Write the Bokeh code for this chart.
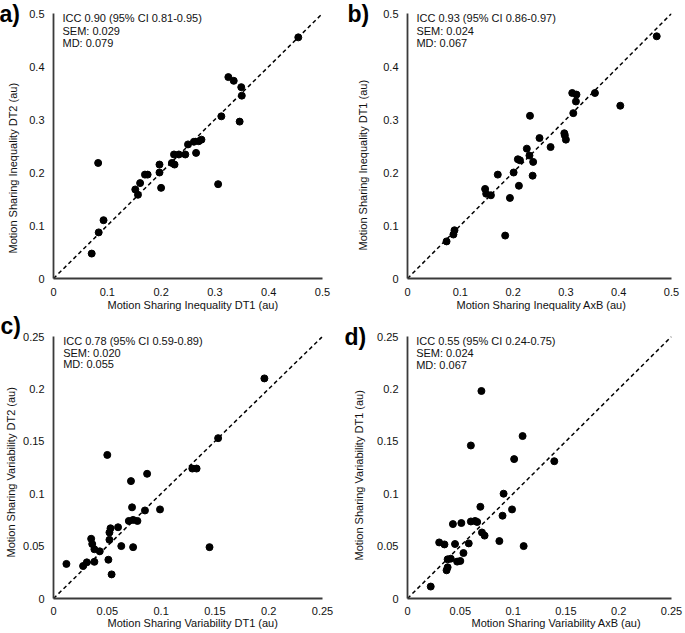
from bokeh.plotting import figure
from bokeh.layouts import gridplot
from bokeh.models import Range1d, FixedTicker, Label, Title
from bokeh.embed import file_html
from bokeh.resources import INLINE

FONT = "Liberation Sans"

# ---------------- data ----------------
# a) Motion Sharing Inequality: DT1 (x) vs DT2 (y)
a_x = [0.455, 0.325, 0.335, 0.349, 0.350, 0.346, 0.312, 0.306, 0.275, 0.270,
       0.261, 0.250, 0.265, 0.245, 0.233, 0.224, 0.220, 0.225, 0.197, 0.197,
       0.200, 0.175, 0.170, 0.161, 0.152, 0.157, 0.083, 0.093, 0.084, 0.071]
a_y = [0.455, 0.380, 0.373, 0.361, 0.345, 0.296, 0.306, 0.178, 0.262, 0.259,
       0.258, 0.253, 0.237, 0.234, 0.234, 0.234, 0.218, 0.215, 0.215, 0.200,
       0.171, 0.196, 0.196, 0.180, 0.168, 0.158, 0.218, 0.110, 0.087, 0.047]

# b) Motion Sharing Inequality: AxB (x) vs DT1 (y)
b_x = [0.472, 0.312, 0.320, 0.355, 0.319, 0.314, 0.403, 0.232, 0.250, 0.297,
       0.298, 0.300, 0.271, 0.226, 0.231, 0.209, 0.213, 0.238, 0.201, 0.171,
       0.237, 0.211, 0.194, 0.147, 0.149, 0.158, 0.185, 0.089, 0.087, 0.074]
b_y = [0.457, 0.350, 0.347, 0.350, 0.334, 0.312, 0.326, 0.307, 0.265, 0.274,
       0.270, 0.262, 0.248, 0.245, 0.232, 0.225, 0.223, 0.220, 0.200, 0.196,
       0.194, 0.175, 0.152, 0.169, 0.160, 0.157, 0.081, 0.091, 0.083, 0.070]

# c) Motion Sharing Variability: DT1 (x) vs DT2 (y)
c_x = [0.050, 0.087, 0.072, 0.073, 0.085, 0.099, 0.070, 0.074, 0.078, 0.060,
       0.053, 0.052, 0.052, 0.035, 0.036, 0.038, 0.043, 0.063, 0.074, 0.051,
       0.038, 0.031, 0.0275, 0.012, 0.054, 0.145, 0.196, 0.153, 0.129, 0.133]
c_y = [0.137, 0.119, 0.112, 0.087, 0.084, 0.085, 0.074, 0.075, 0.074, 0.068,
       0.067, 0.063, 0.056, 0.057, 0.052, 0.047, 0.045, 0.050, 0.049, 0.037,
       0.035, 0.0345, 0.031, 0.033, 0.023, 0.049, 0.210, 0.153, 0.124, 0.124]

# d) Motion Sharing Variability: AxB (x) vs DT1 (y)
d_x = [0.070, 0.060, 0.109, 0.101, 0.139, 0.091, 0.069, 0.099, 0.090, 0.043,
       0.051, 0.060, 0.064, 0.066, 0.0705, 0.073, 0.030, 0.035, 0.045, 0.058,
       0.087, 0.110, 0.053, 0.038, 0.041, 0.047, 0.050, 0.038, 0.037, 0.022]
d_y = [0.198, 0.146, 0.155, 0.133, 0.131, 0.100, 0.0875, 0.085, 0.079, 0.071,
       0.072, 0.0735, 0.074, 0.073, 0.063, 0.060, 0.0535, 0.0516, 0.052, 0.0526,
       0.0548, 0.050, 0.0434, 0.0374, 0.038, 0.0352, 0.0358, 0.0298, 0.0269, 0.0114]

ineq_ticks = [0, 0.1, 0.2, 0.3, 0.4, 0.5]
ineq_tick_labels = ["0", "0.1", "0.2", "0.3", "0.4", "0.5"]
var_ticks = [0, 0.05, 0.1, 0.15, 0.2, 0.25]
var_tick_labels = ["0", "0.05", "0.1", "0.15", "0.2", "0.25"]

stats_a = ["ICC 0.90 (95% CI 0.81-0.95)", "SEM: 0.029", "MD: 0.079"]
stats_b = ["ICC 0.93 (95% CI 0.86-0.97)", "SEM: 0.024", "MD: 0.067"]
stats_c = ["ICC 0.78 (95% CI 0.59-0.89)", "SEM: 0.020", "MD: 0.055"]
stats_d = ["ICC 0.55 (95% CI 0.24-0.75)", "SEM: 0.024", "MD: 0.067"]

TEXT_COLOR = "#111111"


def make_panel(xs, ys, ticks, tick_labels, xlabel, ylabel, stats, tag,
               W, H, bl, br, bt, bb, x_std, ytitle_off, ytitle_std,
               xtitle_off, xtitle_std, stat_x, stat_gap, tag_off, tag_std):
    vmax = ticks[-1]
    p = figure(width=W, height=H, x_range=Range1d(0, vmax), y_range=Range1d(0, vmax),
               output_backend="svg", toolbar_location=None,
               min_border_left=bl, min_border_right=br,
               min_border_top=bt, min_border_bottom=bb)
    p.outline_line_color = None
    p.grid.visible = False
    p.background_fill_color = "white"
    p.border_fill_color = "white"
    fh = H - bt - bb
    sy = vmax / fh
    fw = W - bl - br
    sx = vmax / fw

    for ax in (p.xaxis[0], p.yaxis[0]):
        ax.ticker = FixedTicker(ticks=ticks)
        ax.major_label_overrides = {t: l for t, l in zip(ticks, tick_labels)}
        ax.major_tick_in = 0
        ax.major_tick_out = 0
        ax.minor_tick_in = 0
        ax.minor_tick_out = 0
        ax.axis_line_color = "#3a3a3a"
        ax.axis_line_width = 1.8
        ax.major_label_text_font = FONT
        ax.major_label_text_font_size = "11px"
        ax.major_label_text_color = TEXT_COLOR
    p.xaxis.major_label_standoff = x_std
    p.yaxis.major_label_standoff = 9

    # identity line
    identity = [0, vmax]
    p.line(identity, identity, line_color="black", line_width=1.5, line_dash="4 3")
    p.scatter(xs, ys, size=7, fill_color="black", line_color="black")

    # stats text inside the frame
    for i, s in enumerate(stats):
        p.add_layout(Label(x=stat_x * sx, y=vmax - (4.3 + stat_gap * i) * sy, text=s,
                           text_font=FONT, text_font_size="11px", text_color=TEXT_COLOR,
                           text_align="left", text_baseline="middle"))

    # y axis title (left side panel, outside the tick labels)
    p.add_layout(Title(text=ylabel, align="left", offset=ytitle_off,
                       vertical_align="top", standoff=ytitle_std,
                       text_font=FONT, text_font_size="11px", text_font_style="normal",
                       text_color=TEXT_COLOR), "left")
    # x axis title
    p.add_layout(Title(text=xlabel, align="left", offset=xtitle_off,
                       vertical_align="top", standoff=xtitle_std,
                       text_font=FONT, text_font_size="11px", text_font_style="normal",
                       text_color=TEXT_COLOR), "below")
    # panel tag, top-left corner outside the frame
    p.add_layout(Title(text=tag, align="left", offset=tag_off,
                       vertical_align="middle", standoff=tag_std,
                       text_font=FONT, text_font_size="23px", text_font_style="bold",
                       text_color="black"), "above")
    return p


pa = make_panel(a_x, a_y, ineq_ticks, ineq_tick_labels,
                "Motion Sharing Inequality DT1 (au)", "Motion Sharing Inequality DT2 (au)",
                stats_a, "a)", 343, 314, 53, 21, 13, 36, x_std=9,
                ytitle_off=25, ytitle_std=12, xtitle_off=54, xtitle_std=0,
                stat_x=9, stat_gap=12.7, tag_off=-54, tag_std=-32)
pb = make_panel(b_x, b_y, ineq_ticks, ineq_tick_labels,
                "Motion Sharing Inequality AxB (au)", "Motion Sharing Inequality DT1 (au)",
                stats_b, "b)", 340, 314, 61, 12, 13, 36, x_std=9,
                ytitle_off=28, ytitle_std=19, xtitle_off=49, xtitle_std=0,
                stat_x=9, stat_gap=12.7, tag_off=-60, tag_std=-32)
pc = make_panel(c_x, c_y, var_ticks, var_tick_labels,
                "Motion Sharing Variability DT1 (au)", "Motion Sharing Variability DT2 (au)",
                stats_c, "c)", 343, 319, 52, 21, 21, 32, x_std=8,
                ytitle_off=41, ytitle_std=4, xtitle_off=54, xtitle_std=-2,
                stat_x=9.7, stat_gap=12.0, tag_off=-53, tag_std=-6)
pd_ = make_panel(d_x, d_y, var_ticks, var_tick_labels,
                 "Motion Sharing Variability AxB (au)", "Motion Sharing Variability DT1 (au)",
                 stats_d, "d)", 340, 319, 64, 10, 21, 35, x_std=8,
                 ytitle_off=38, ytitle_std=16, xtitle_off=64, xtitle_std=-2,
                 stat_x=8.7, stat_gap=12.0, tag_off=-63, tag_std=-32)

grid = gridplot([[pa, pb], [pc, pd_]], toolbar_location=None)

open("out.html", "w").write(file_html(grid, INLINE))
